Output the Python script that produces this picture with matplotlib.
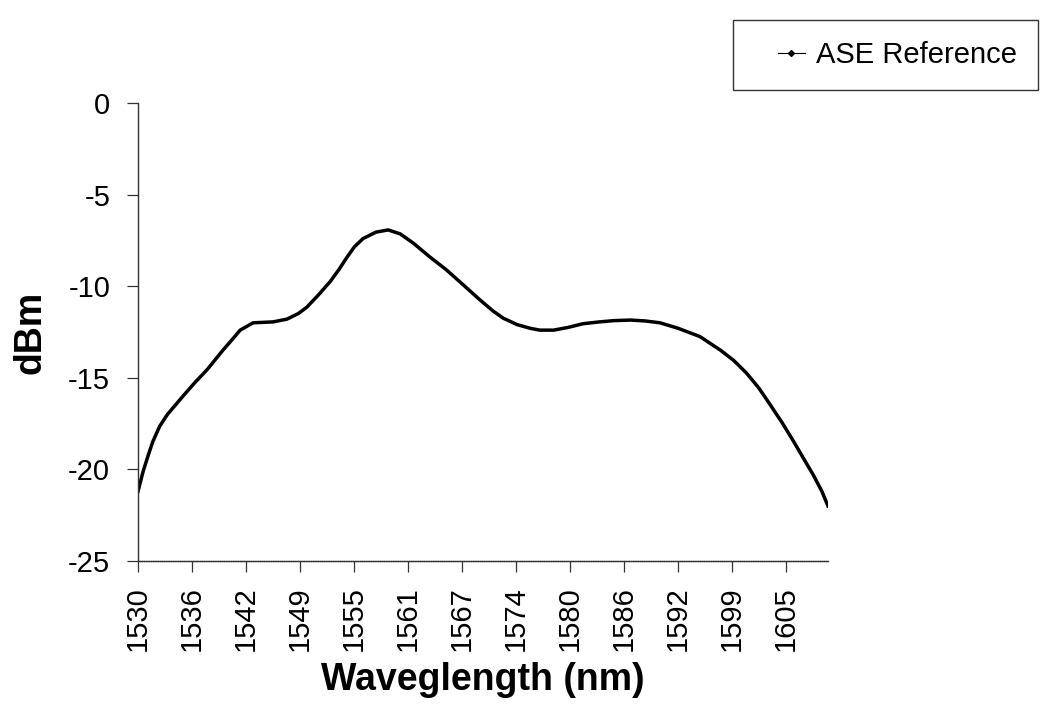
import matplotlib
matplotlib.use("Agg")
import matplotlib.pyplot as plt
from matplotlib.legend_handler import HandlerLine2D

plt.rcParams["font.family"] = ["Liberation Sans", "DejaVu Sans"]
plt.rcParams["axes.unicode_minus"] = False

# ASE reference spectrum
wavelength = [1530.0, 1530.6, 1531.2, 1531.7, 1532.5, 1533.4, 1534.3, 1535.2, 1536.5,
              1538.0, 1539.8, 1541.0, 1541.8, 1543.3, 1545.6, 1547.2, 1548.5, 1549.5,
              1550.8, 1552.2, 1553.2, 1554.1, 1555.0, 1556.0, 1557.5, 1558.9, 1560.3,
              1561.8, 1563.7, 1565.6, 1567.5, 1569.5, 1571.0, 1572.2, 1573.8, 1575.3,
              1576.4, 1578.0, 1579.7, 1581.4, 1583.3, 1585.0, 1586.9, 1588.6, 1590.3,
              1592.4, 1594.9, 1597.3, 1598.8, 1600.3, 1601.7, 1603.0, 1604.4, 1605.7,
              1607.0, 1608.0, 1609.0, 1609.7]
power_dbm = [-21.2, -20.1, -19.2, -18.5, -17.65, -17.0, -16.5, -16.0, -15.3,
             -14.55, -13.5, -12.85, -12.4, -12.0, -11.95, -11.8, -11.5, -11.15,
             -10.5, -9.75, -9.1, -8.45, -7.85, -7.4, -7.05, -6.93, -7.15,
             -7.65, -8.4, -9.1, -9.9, -10.75, -11.35, -11.75, -12.1, -12.3,
             -12.4, -12.4, -12.25, -12.05, -11.95, -11.88, -11.85, -11.9, -12.0,
             -12.3, -12.75, -13.5, -14.05, -14.75, -15.55, -16.45, -17.45, -18.45,
             -19.5, -20.3, -21.2, -22.0]

tick_labels = ["1530", "1536", "1542", "1549", "1555", "1561", "1567",
               "1574", "1580", "1586", "1592", "1599", "1605"]
tick_step = 6.24

fig = plt.figure(figsize=(10.47, 7.12), dpi=100)
ax = fig.add_axes([0.1318, 0.2121, 0.6590, 0.6433])

ax.plot(wavelength, power_dbm, color="black", lw=2.5, label="ASE Reference",
        solid_joinstyle="round")

ax.set_xlim(1530, 1609.7)
ax.set_ylim(-25, 0)
ax.set_yticks(range(-25, 1, 5))
ticks = [1530 + tick_step * i for i in range(len(tick_labels))]
ax.set_xticks(ticks)
ax.set_xticklabels(tick_labels, rotation=90)
ax.tick_params(direction="out", length=8, width=0.9, labelsize=21, color="#333333")
ax.tick_params(axis="y", pad=12)
ax.tick_params(axis="x", pad=10)

for s in ["top", "right"]:
    ax.spines[s].set_visible(False)
for s in ["left", "bottom"]:
    ax.spines[s].set_color("#333333")
    ax.spines[s].set_linewidth(1.0)
ax.spines["bottom"].set_linestyle((0, (1, 0.6)))

ax.set_xlabel("Waveglength (nm)", fontsize=27, fontweight="bold", labelpad=8)
ax.set_ylabel("dBm", fontsize=27, fontweight="bold", labelpad=14)

handle = plt.Line2D([], [], color="black", lw=0.8, marker="D", markersize=3)
leg = fig.legend([handle], ["ASE Reference"], loc="upper left",
                 bbox_to_anchor=(0.700, 0.972), fontsize=21, frameon=True,
                 fancybox=False, handlelength=1.75, borderpad=0.72,
                 handletextpad=0.38, borderaxespad=0,
                 handler_map={plt.Line2D: HandlerLine2D(xpad=0.82)})
leg.get_frame().set_edgecolor("black")
leg.get_frame().set_linewidth(1.0)

fig.savefig("out.png", dpi=100)
